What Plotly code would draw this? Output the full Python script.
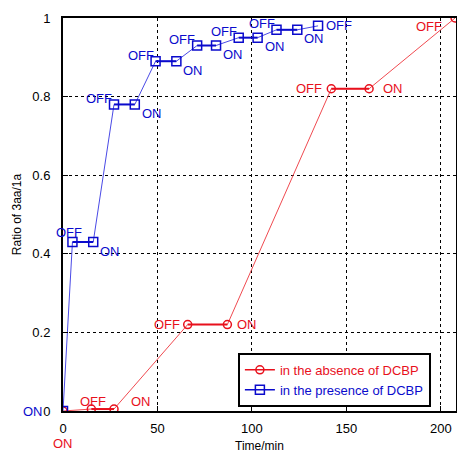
import plotly.graph_objects as go

# ---- data ----
absence_time = [0, 15, 27, 66, 87, 142, 162, 207.5]
absence_ratio = [0, 0.005, 0.005, 0.22, 0.22, 0.82, 0.82, 1.0]
absence_labels = ["ON", "OFF", "ON", "OFF", "ON", "OFF", "ON", "OFF"]

presence_time = [0, 5, 16, 27, 38, 49, 60, 71, 81, 93, 103, 113, 124, 135]
presence_ratio = [0, 0.43, 0.43, 0.78, 0.78, 0.89, 0.89, 0.93, 0.93, 0.95, 0.95, 0.97, 0.97, 0.98]
presence_labels = ["ON", "OFF", "ON", "OFF", "ON", "OFF", "ON", "OFF", "ON", "OFF", "ON", "OFF", "ON", "OFF"]

x_ticks = [0, 50, 100, 150, 200]
y_ticks = [0, 0.2, 0.4, 0.6, 0.8, 1]
y_tick_text = ["0", "0.2", "0.4", "0.6", "0.8", "1"]

# ---- style ----
RED = "#e8101c"
RED_THIN = "#f04a50"
BLUE = "#0a0acc"
BLUE_THIN = "#4a4ae6"
FONT = "Liberation Sans"

# label placement (xanchor, xshift, yshift) per point
absence_pos = [("center", 0, -32), ("center", 2, 8), ("left", 15, 8), ("right", -6, 0),
               ("left", 8, 0), ("right", -7, 0), ("left", 12, 0), ("right", -11, -8)]
presence_pos = [("right", -18, 0), ("center", -3, 10)] + \
    [("left", 5, -9) if l == "ON" else ("right", 0, 6) for l in presence_labels[2:-1]] + \
    [("left", 6, 0)]


def dark_segments(xs, ys, labels):
    sx, sy = [], []
    for i in range(len(xs) - 1):
        if labels[i] == "OFF" and labels[i + 1] == "ON":
            sx += [xs[i], xs[i + 1], None]
            sy += [ys[i], ys[i + 1], None]
    return sx, sy


fig = go.Figure()

for xs, ys, labs, thin, dark, sym, size, name in [
    (absence_time, absence_ratio, absence_labels, RED_THIN, RED, "circle-open", 8, "in the absence of DCBP"),
    (presence_time, presence_ratio, presence_labels, BLUE_THIN, BLUE, "square-open", 9, "in the presence of DCBP"),
]:
    fig.add_trace(go.Scatter(x=xs, y=ys, mode="lines", line=dict(color=thin, width=1),
                             showlegend=False, hoverinfo="skip"))
    sx, sy = dark_segments(xs, ys, labs)
    fig.add_trace(go.Scatter(x=sx, y=sy, mode="lines", line=dict(color=dark, width=2),
                             showlegend=False, hoverinfo="skip"))
    fig.add_trace(go.Scatter(x=xs, y=ys, mode="markers",
                             marker=dict(symbol=sym, size=size, color=dark, line=dict(width=1.5, color=dark)),
                             showlegend=False))

# legend entries
fig.add_trace(go.Scatter(x=[None], y=[None], mode="lines+markers",
                         line=dict(color=RED, width=1.5),
                         marker=dict(symbol="circle-open", size=8, color=RED, line=dict(width=1.5, color=RED)),
                         name="<span style='color:%s'>in the absence of DCBP</span>" % RED))
fig.add_trace(go.Scatter(x=[None], y=[None], mode="lines+markers",
                         line=dict(color=BLUE, width=1.5),
                         marker=dict(symbol="square-open", size=9, color=BLUE, line=dict(width=1.5, color=BLUE)),
                         name="<span style='color:%s'>in the presence of DCBP</span>" % BLUE))

annotations = []
for xs, ys, labs, pos, col in [(absence_time, absence_ratio, absence_labels, absence_pos, RED),
                               (presence_time, presence_ratio, presence_labels, presence_pos, BLUE)]:
    for x, y, lab, (anc, dx, dy) in zip(xs, ys, labs, pos):
        annotations.append(dict(x=x, y=y, xref="x", yref="y", text=lab, showarrow=False,
                                xanchor=anc, yanchor="middle", xshift=dx, yshift=dy,
                                font=dict(family=FONT, size=13, color=col)))

fig.update_layout(
    width=457, height=453,
    margin=dict(l=63, r=1, t=18, b=42, autoexpand=False),
    paper_bgcolor="white", plot_bgcolor="white",
    font=dict(family=FONT, size=12, color="black"),
    annotations=annotations,
    legend=dict(x=0.445, y=0.148, xanchor="left", yanchor="top",
                bgcolor="white", bordercolor="black", borderwidth=2,
                font=dict(family=FONT, size=13), tracegroupgap=0),
)
fig.update_xaxes(range=[0, 208], tickvals=x_ticks, ticks="inside", ticklen=5, tickcolor="black",
                 showline=True, linecolor="black", linewidth=2, mirror=True,
                 showgrid=True, gridcolor="black", griddash="dot", gridwidth=1,
                 zeroline=False, ticklabelstandoff=4, automargin=False,
                 tickfont=dict(size=13),
                 title=dict(text="Time/min", standoff=8, font=dict(size=12)))
fig.update_yaxes(range=[0, 1], tickvals=y_ticks, ticktext=y_tick_text, ticks="inside", ticklen=5,
                 tickcolor="black", automargin=False, tickfont=dict(size=13),
                 showline=True, linecolor="black", linewidth=2, mirror=True,
                 showgrid=True, gridcolor="black", griddash="dot", gridwidth=1,
                 zeroline=False, ticklabelstandoff=8,
                 title=dict(text="Ratio of 3aa/1a", standoff=8, font=dict(size=12)))

fig.write_html("out.html", config={"displayModeBar": False},
               post_script="document.body.style.margin='0px';document.body.style.overflow='hidden';")
